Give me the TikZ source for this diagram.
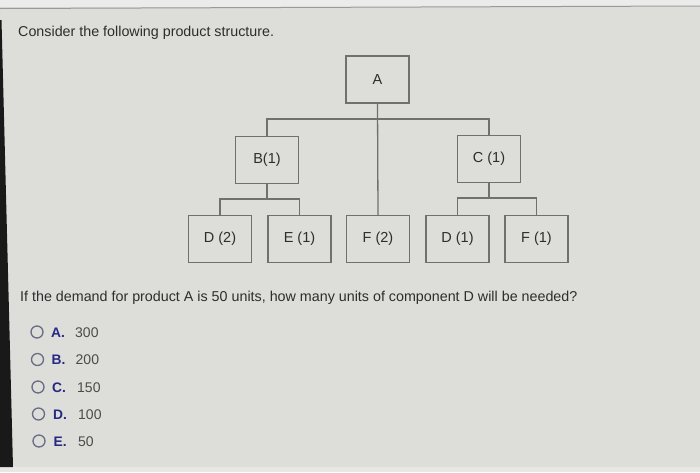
\documentclass[tikz,border=0pt]{standalone}
\usepackage{fontspec}
\setmainfont{Liberation Sans}
\definecolor{bg}{RGB}{221,221,218}
\definecolor{boxline}{RGB}{112,112,110}
\definecolor{txt}{RGB}{45,45,45}
\definecolor{optblue}{RGB}{38,40,130}
\definecolor{optgray}{RGB}{75,75,75}
\definecolor{circ}{RGB}{105,108,130}
\tikzset{
  pbox/.style={draw=boxline, line width=1.4pt, fill=bg, minimum width=63pt, minimum height=47pt,
    inner sep=0pt, font=\fontsize{14.5}{16}\selectfont, text=txt},
  conn/.style={draw=boxline, line width=1.3pt},
  plain/.style={anchor=base west, inner sep=0pt, text=txt, font=\fontsize{14.3}{16}\selectfont},
  optletter/.style={anchor=base west, inner sep=0pt, text=optblue, font=\fontsize{13.8}{16}\selectfont\bfseries},
  optnum/.style={anchor=base west, inner sep=0pt, text=optgray, font=\fontsize{14}{16}\selectfont},
  radio/.style={circle, draw=circ, line width=1.3pt, minimum size=12pt, inner sep=0pt}
}
\begin{document}
\begin{tikzpicture}[x=1pt,y=-1pt]
\useasboundingbox (0,0) rectangle (700,472);
\fill[bg] (0,0) rectangle (700,472);
\fill[bg!60!white] (0,0) rectangle (700,7);
\draw[line width=1pt, gray!80] (0,8.5) -- (700,6);
\fill[bg!70!white] (0,467) rectangle (700,472);
\fill[black!90] (0,20) -- (1.5,20) -- (13,467) -- (0,467) -- cycle;

\node[plain] (title) at (18,36) {Consider the following product structure.};

% boxes
\node[pbox] (A)  at (377.5,79.5) {A};
\node[pbox] (B)  at (267,160) {B(1)};
\node[pbox] (C)  at (489,159) {C (1)};
\node[pbox] (D2) at (220,239) {D (2)};
\node[pbox] (E1) at (299.5,239) {E (1)};
\node[pbox] (F2) at (378,239) {F (2)};
\node[pbox] (D1) at (457.5,239) {D (1)};
\node[pbox] (F1) at (536.5,239) {F (1)};

% connectors
\coordinate (busA) at (377.5,119);
\draw[conn] (A.south) -- (F2.north);
\draw[conn] (B.north) |- (busA) -| (C.north);
\coordinate (busB) at (267,199);
\draw[conn] (B.south) -- (busB);
\draw[conn] (D2.north) |- (busB) -| (E1.north);
\coordinate (busC) at (489,198);
\draw[conn] (C.south) -- (busC);
\draw[conn] (D1.north) |- (busC) -| (F1.north);

\node[plain] (q) at (20,301) {If the demand for product A is 50 units, how many units of component D will be needed?};

% options
\node[radio] (ra) at (37,332) {};
\node[optletter] (la) at (51,337) {A.};
\node[optnum] (na) at (75,337) {300};
\node[radio] (rb) at (37.5,359.5) {};
\node[optletter] (lb) at (51.5,364.5) {B.};
\node[optnum] (nb) at (75.5,364.5) {200};
\node[radio] (rc) at (38,387) {};
\node[optletter] (lc) at (52,392) {C.};
\node[optnum] (nc) at (77,392) {150};
\node[radio] (rd) at (38.5,414) {};
\node[optletter] (ld) at (53,419) {D.};
\node[optnum] (nd) at (78,419) {100};
\node[radio] (re) at (39,441) {};
\node[optletter] (le) at (53.5,446) {E.};
\node[optnum] (ne) at (78,446) {50};
\end{tikzpicture}
\end{document}
